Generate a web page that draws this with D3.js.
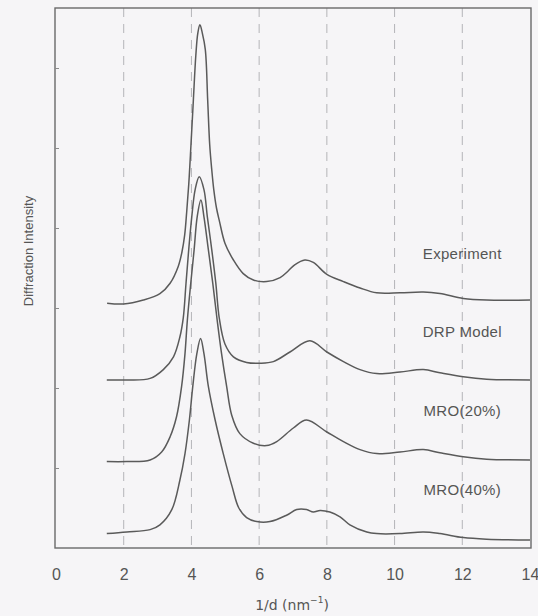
<!DOCTYPE html>
<html>
<head>
<meta charset="utf-8">
<script src="https://cdn.jsdelivr.net/npm/d3@7"></script>
<style>
  html, body { margin: 0; padding: 0; background: #f6f5f7; }
  svg { display: block; }
</style>
</head>
<body>
<svg id="chart" width="538" height="616"></svg>
<script>
// Diffraction profiles (1/d in nm^-1, intensity in arbitrary offset units)
const xTicks = [0, 2, 4, 6, 8, 10, 12, 14];
const gridValues = [2, 4, 6, 8, 10, 12];
const yTicks = [1, 2, 3, 4, 5, 6];
const seriesNames = ["Experiment", "DRP Model", "MRO(20%)", "MRO(40%)"];
const labelLevels = [3.68, 2.70, 1.72, 0.73];

const experimentX = [1.51, 1.99, 2.58, 3.07, 3.37, 3.61, 3.72, 3.80, 3.86, 3.92, 3.97, 4.05, 4.13, 4.19, 4.25, 4.32, 4.41, 4.48, 4.54, 4.60, 4.66, 4.74, 4.83, 4.99, 5.24, 5.53, 5.83, 6.22, 6.62, 6.85, 7.05, 7.35, 7.60, 8.00, 8.49, 8.98, 9.47, 10.16, 10.85, 11.34, 12.03, 12.72, 14.0];
const experimentY = [3.06, 3.05, 3.10, 3.18, 3.31, 3.52, 3.70, 3.91, 4.20, 4.54, 4.91, 5.54, 6.16, 6.44, 6.54, 6.44, 6.23, 5.60, 5.04, 4.73, 4.48, 4.25, 4.08, 3.81, 3.60, 3.43, 3.35, 3.33, 3.38, 3.46, 3.54, 3.60, 3.57, 3.42, 3.33, 3.25, 3.19, 3.19, 3.20, 3.18, 3.12, 3.10, 3.10];

const drpX = [1.50, 2.09, 2.78, 3.17, 3.47, 3.66, 3.76, 3.84, 3.92, 4.01, 4.11, 4.23, 4.37, 4.47, 4.60, 4.72, 4.82, 4.99, 5.24, 5.63, 6.03, 6.42, 6.91, 7.50, 8.00, 8.49, 8.98, 9.47, 10.16, 10.85, 11.34, 12.03, 12.72, 14.0];
const drpY = [2.10, 2.10, 2.12, 2.23, 2.39, 2.64, 2.88, 3.31, 3.73, 4.14, 4.48, 4.64, 4.48, 4.14, 3.73, 3.31, 2.88, 2.55, 2.39, 2.32, 2.31, 2.33, 2.45, 2.59, 2.45, 2.33, 2.23, 2.18, 2.20, 2.23, 2.19, 2.14, 2.11, 2.10];

const mro20X = [1.50, 2.09, 2.78, 3.12, 3.37, 3.56, 3.71, 3.81, 3.88, 3.98, 4.08, 4.17, 4.28, 4.37, 4.50, 4.63, 4.76, 4.89, 5.04, 5.19, 5.43, 5.83, 6.22, 6.52, 7.01, 7.40, 8.00, 8.49, 8.98, 9.47, 10.16, 10.85, 11.34, 12.03, 12.72, 14.0];
const mro20Y = [1.08, 1.08, 1.10, 1.20, 1.39, 1.64, 2.02, 2.43, 2.85, 3.31, 3.73, 4.14, 4.35, 4.14, 3.73, 3.31, 2.85, 2.43, 2.02, 1.66, 1.43, 1.31, 1.28, 1.33, 1.50, 1.60, 1.45, 1.33, 1.23, 1.18, 1.20, 1.23, 1.19, 1.14, 1.11, 1.10];

const mro40X = [1.50, 2.09, 2.78, 3.07, 3.42, 3.66, 3.81, 3.94, 4.04, 4.16, 4.27, 4.37, 4.50, 4.70, 4.94, 5.20, 5.40, 5.63, 5.93, 6.32, 6.81, 7.11, 7.40, 7.60, 7.80, 8.09, 8.39, 8.68, 9.18, 9.47, 10.16, 10.85, 11.34, 12.03, 12.72, 14.0];
const mro40Y = [0.18, 0.20, 0.23, 0.29, 0.48, 0.85, 1.18, 1.60, 2.02, 2.43, 2.62, 2.43, 2.02, 1.60, 1.18, 0.77, 0.50, 0.38, 0.33, 0.33, 0.41, 0.48, 0.48, 0.45, 0.47, 0.45, 0.39, 0.29, 0.20, 0.18, 0.18, 0.20, 0.18, 0.13, 0.11, 0.10];

const seriesX = [experimentX, drpX, mro20X, mro40X];
const seriesY = [experimentY, drpY, mro20Y, mro40Y];

const svg = d3.select("#chart");
const plot = { left: 55, right: 531, top: 8, bottom: 548 };

const x = d3.scaleLinear().domain([0, 14]).range([56, 530]);
const y = d3.scaleLinear().domain([0, 6.75]).range([plot.bottom, plot.top]);

const ink = "#5a5a5a";
const font = "'Liberation Sans', Arial, sans-serif";

// dashed vertical grid
svg.append("g")
  .selectAll("line")
  .data(gridValues)
  .join("line")
  .attr("x1", d => x(d)).attr("x2", d => x(d))
  .attr("y1", plot.top).attr("y2", plot.bottom)
  .attr("stroke", "#b4b4b8")
  .attr("stroke-width", 1)
  .attr("stroke-dasharray", "9,7");

// plot frame
svg.append("rect")
  .attr("x", plot.left).attr("y", plot.top)
  .attr("width", plot.right - plot.left)
  .attr("height", plot.bottom - plot.top)
  .attr("fill", "none")
  .attr("stroke", "#6a6a6a")
  .attr("stroke-width", 1.4);

// inward ticks on the intensity axis (no labels)
const yAxis = d3.axisRight(y).tickValues(yTicks).tickSize(4).tickFormat("");
const yg = svg.append("g").attr("transform", `translate(${plot.left},0)`).call(yAxis);
yg.select(".domain").remove();
yg.selectAll(".tick line").attr("stroke", "#8a8a8a");

// x tick labels
const xAxis = d3.axisBottom(x).tickValues(xTicks).tickSize(0).tickPadding(0).tickFormat(d3.format("d"));
const xg = svg.append("g").attr("transform", `translate(0,${plot.bottom + 32})`).call(xAxis);
xg.select(".domain").remove();
xg.selectAll("text")
  .attr("dy", "0")
  .attr("font-family", font)
  .attr("font-size", 16)
  .attr("fill", "#555");

// axis titles
const xTitle = svg.append("text")
  .attr("x", 292).attr("y", 610)
  .attr("text-anchor", "middle")
  .attr("font-family", "'DejaVu Sans', sans-serif")
  .attr("font-size", 14)
  .attr("fill", "#555");
xTitle.append("tspan").text("1/d (nm");
xTitle.append("tspan").attr("font-size", 9).attr("dy", -7).text("−1");
xTitle.append("tspan").attr("dy", 7).text(")");

svg.append("text")
  .attr("transform", "translate(33,251) rotate(-90)")
  .attr("text-anchor", "middle")
  .attr("font-family", font)
  .attr("font-size", 13)
  .attr("fill", "#555")
  .text("Diffraction Intensity");

// profiles
const line = d3.line()
  .x(d => x(d[0]))
  .y(d => y(d[1]))
  .curve(d3.curveCatmullRom.alpha(0.5));

seriesNames.forEach((name, i) => {
  const pts = seriesX[i].map((v, j) => [v, seriesY[i][j]]);
  svg.append("path")
    .datum(pts)
    .attr("d", line)
    .attr("fill", "none")
    .attr("stroke", ink)
    .attr("stroke-width", 1.5);
});

// series labels
svg.append("g")
  .selectAll("text")
  .data(seriesNames)
  .join("text")
  .attr("x", x(12))
  .attr("y", (d, i) => y(labelLevels[i]))
  .attr("dy", "0.35em")
  .attr("text-anchor", "middle")
  .attr("font-family", font)
  .attr("font-size", 15)
  .attr("letter-spacing", 0.3)
  .attr("fill", "#555")
  .text(d => d);
</script>
</body>
</html>
